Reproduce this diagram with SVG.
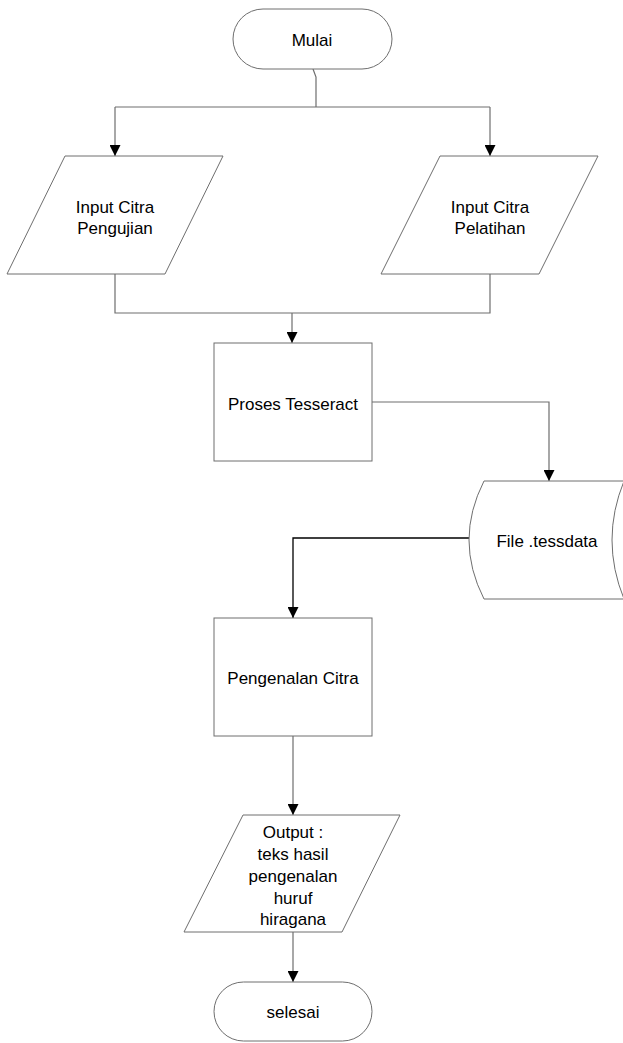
<svg xmlns="http://www.w3.org/2000/svg" width="623" height="1043" viewBox="0 0 623 1043">
<defs>
<style>
.n{fill:#fff;stroke:#6e6e6e;stroke-width:1}
.c{fill:none;stroke:#6e6e6e;stroke-width:1.2}
.k{fill:none;stroke:#000;stroke-width:1.3}
.t{font-family:"Liberation Sans",Arial,sans-serif;font-size:17px;fill:#000;text-anchor:middle;dominant-baseline:central}
</style>
<marker id="a" markerWidth="11" markerHeight="11" refX="11" refY="5.5" orient="auto" markerUnits="userSpaceOnUse">
<path d="M0,0 L11,5.5 L0,11 Z" fill="#000"/>
</marker>
</defs>
<rect width="623" height="1043" fill="#fff"/>
<g id="connectors">
<path class="c" d="M313,69 L316,77 L316,107"/>
<path class="c" d="M115,107 L490,107"/>
<path class="c" d="M115,107 L115,156" marker-end="url(#a)"/>
<path class="c" d="M490,107 L490,156" marker-end="url(#a)"/>
<path class="c" d="M115,274 L115,313 L490,313 L490,274"/>
<path class="c" d="M292,313 L292,343" marker-end="url(#a)"/>
<path class="c" d="M372,402 L549,402 L549,481" marker-end="url(#a)"/>
<path class="k" d="M469,538 L293,538 L293,618" marker-end="url(#a)"/>
<path class="c" d="M293,736 L293,815" marker-end="url(#a)"/>
<path class="c" d="M293,932 L293,982" marker-end="url(#a)"/>
</g>
<g id="mulai">
<rect class="n" x="233" y="9" width="159" height="60" rx="30" ry="30"/>
<text class="t" x="312" y="40">Mulai</text>
</g>
<g id="input-pengujian">
<polygon class="n" points="65,156 223,156 165,274 7,274"/>
<text class="t" x="115" y="207">Input Citra</text>
<text class="t" x="115" y="228">Pengujian</text>
</g>
<g id="input-pelatihan">
<polygon class="n" points="440,156 598,156 539,274 381,274"/>
<text class="t" x="490" y="207">Input Citra</text>
<text class="t" x="490" y="228">Pelatihan</text>
</g>
<g id="proses">
<rect class="n" x="214" y="343" width="158" height="118"/>
<text class="t" x="293" y="404">Proses Tesseract</text>
</g>
<g id="file">
<path class="n" d="M640,481 L484,481 Q454,540 484,599 L640,599 Z"/>
<path class="n" d="M624,481 Q600,540 624,599" fill="none"/>
<text class="t" x="547" y="541">File .tessdata</text>
</g>
<g id="pengenalan">
<rect class="n" x="214" y="618" width="158" height="118"/>
<text class="t" x="293" y="678">Pengenalan Citra</text>
</g>
<g id="output">
<polygon class="n" points="243,815 400,815 342,932 184,932"/>
<text class="t" x="293" y="832">Output :</text>
<text class="t" x="293" y="854">teks hasil</text>
<text class="t" x="293" y="876">pengenalan</text>
<text class="t" x="293" y="898">huruf</text>
<text class="t" x="293" y="919">hiragana</text>
</g>
<g id="selesai">
<rect class="n" x="214" y="982" width="158" height="59" rx="29.5" ry="29.5"/>
<text class="t" x="293" y="1012">selesai</text>
</g>
</svg>
